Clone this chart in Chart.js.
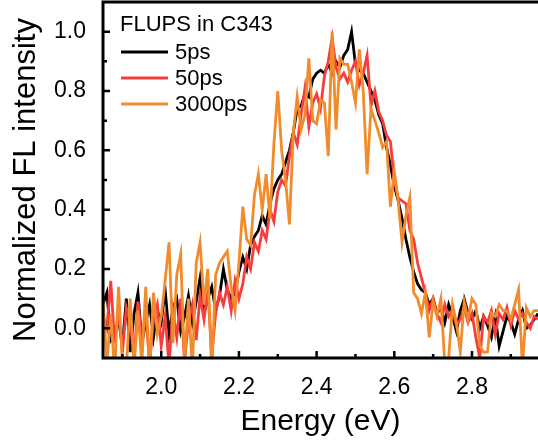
<!DOCTYPE html>
<html><head><meta charset="utf-8">
<script src="https://cdn.jsdelivr.net/npm/chart.js@4/dist/chart.umd.min.js"></script>
<style>html,body{margin:0;padding:0;background:#fff;overflow:hidden}canvas{display:block}</style>
</head><body>
<canvas id="c" width="538" height="447"></canvas>
<script>
const energy = [1.85,1.86,1.87,1.88,1.89,1.90,1.91,1.92,1.93,1.94,1.95,1.96,1.97,1.98,1.99,
2.00,2.01,2.02,2.03,2.04,2.05,2.06,2.07,2.08,2.09,2.10,2.11,2.12,2.13,2.14,2.15,2.16,2.17,2.18,2.19,
2.20,2.21,2.22,2.23,2.24,2.25,2.26,2.27,2.28,2.29,2.30,2.31,2.32,2.33,2.34,2.35,2.36,2.37,2.38,2.39,
2.40,2.41,2.42,2.43,2.44,2.45,2.46,2.47,2.48,2.49,2.50,2.51,2.52,2.53,2.54,2.55,2.56,2.57,2.58,2.59,
2.60,2.61,2.62,2.63,2.64,2.65,2.66,2.67,2.68,2.69,2.70,2.71,2.72,2.73,2.74,2.75,2.76,2.77,2.78,2.79,
2.80,2.81,2.82,2.83,2.84,2.85,2.86,2.87,2.88,2.89,2.90,2.91,2.92,2.93,2.94,2.95,2.96,2.97];

const fl5ps = [0.08,0.12,-0.04,-0.02,0.03,-0.06,0.10,-0.08,0.05,0.12,-0.05,0.02,0.08,-0.03,0.06,
0.02,0.13,-0.02,0.07,0.10,-0.01,0.04,0.11,0.02,0.09,0.17,0.05,0.10,0.14,0.06,0.11,0.20,0.13,0.10,0.12,
0.19,0.24,0.20,0.28,0.31,0.33,0.38,0.35,0.42,0.47,0.50,0.52,0.56,0.60,0.66,0.74,0.75,0.79,0.78,0.84,
0.86,0.87,0.86,0.89,0.86,0.90,0.88,0.92,0.94,1.00,0.89,0.87,0.86,0.83,0.80,0.77,0.72,0.69,0.61,0.55,
0.48,0.43,0.37,0.30,0.24,0.19,0.15,0.13,0.12,0.08,0.10,0.05,0.07,0.02,0.08,0.04,-0.01,0.06,0.10,0.05,
0.03,0.06,0.00,0.04,0.01,-0.03,0.04,-0.06,-0.01,0.04,0.02,-0.02,0.03,0.06,0.00,0.01,0.03,0.05];

const fl50ps = [0.04,0.00,0.16,-0.05,0.06,-0.08,0.07,0.02,-0.10,0.09,-0.04,0.05,-0.12,0.03,0.08,
-0.06,0.04,-0.12,0.06,-0.03,0.10,-0.11,0.02,0.08,-0.04,0.11,0.03,0.13,-0.09,0.05,0.12,0.08,0.14,0.06,0.16,
0.10,0.15,0.24,0.20,0.29,0.26,0.33,0.30,0.40,0.36,0.46,0.50,0.48,0.58,0.66,0.62,0.72,0.81,0.68,0.76,
0.79,0.74,0.85,0.90,0.98,0.88,0.84,0.86,0.83,0.87,0.90,0.82,0.86,0.92,0.75,0.80,0.73,0.70,0.65,0.63,
0.50,0.44,0.43,0.42,0.33,0.30,0.22,0.17,0.12,0.06,0.10,0.05,0.02,0.08,0.04,0.06,0.01,0.03,0.07,0.02,
0.05,-0.03,-0.10,0.04,0.02,0.06,-0.02,0.05,0.03,0.07,0.01,0.06,0.03,0.05,0.02,0.00,0.04,0.03];

const fl3000ps = [0.10,-0.12,0.05,-0.15,0.14,-0.12,-0.14,0.10,-0.13,0.06,-0.12,0.14,-0.15,0.12,-0.02,
0.04,0.16,0.29,-0.05,0.18,0.25,-0.12,0.10,-0.14,0.22,0.29,0.08,0.20,-0.15,0.18,0.22,0.24,0.26,0.14,0.06,
0.22,0.41,0.30,0.28,0.45,0.52,0.40,0.52,0.37,0.62,0.80,0.60,0.50,0.35,0.66,0.78,0.67,0.72,0.91,0.70,
0.69,0.77,0.76,0.58,1.00,0.67,0.91,0.89,0.89,0.83,0.76,0.94,0.80,0.52,0.74,0.70,0.66,0.61,0.63,0.41,
0.53,0.43,0.29,0.38,0.44,0.12,0.10,0.05,0.12,-0.03,0.09,0.04,0.10,-0.12,-0.10,0.08,0.02,-0.08,0.09,0.03,
0.10,0.08,-0.06,-0.08,-0.08,0.05,0.04,0.08,0.06,0.06,0.03,0.08,0.13,-0.13,0.07,0.04,0.06,0.06];

const seriesNames = ['5ps', '50ps', '3000ps'];
const seriesColors = ['#000000', '#F83C3C', '#F18B2C'];
const legendTitle = 'FLUPS in C343';
const xTickValues = [2.0, 2.2, 2.4, 2.6, 2.8];
const xMinorValues = [1.9, 2.1, 2.3, 2.5, 2.7, 2.9];
const yTickValues = [0.0, 0.2, 0.4, 0.6, 0.8, 1.0];
const yMinorValues = [0.1, 0.3, 0.5, 0.7, 0.9];
const xTitle = 'Energy (eV)';
const yTitle = 'Normalized FL intensity';

const FONT = "'Liberation Sans', Arial, Helvetica, sans-serif";
const seriesData = [fl5ps, fl50ps, fl3000ps];

const framePlugin = {
  id: 'frameTicksLegend',
  afterDatasetsDraw(chart) {
    const {ctx, chartArea: a, scales: {x, y}} = chart;
    ctx.save();
    ctx.strokeStyle = '#000';
    ctx.lineCap = 'butt';
    ctx.lineWidth = 3;
    ctx.beginPath();
    ctx.moveTo(a.left, a.bottom); ctx.lineTo(a.left, a.top); ctx.lineTo(a.right, a.top);
    ctx.moveTo(a.left - 1.5, a.bottom); ctx.lineTo(a.right, a.bottom);
    ctx.stroke();
    ctx.lineWidth = 2.5;
    ctx.beginPath();
    xTickValues.forEach(v => { const p = x.getPixelForValue(v); ctx.moveTo(p, a.bottom); ctx.lineTo(p, a.bottom - 7); });
    xMinorValues.forEach(v => { const p = x.getPixelForValue(v); ctx.moveTo(p, a.bottom); ctx.lineTo(p, a.bottom - 4); });
    yTickValues.forEach(v => { const p = y.getPixelForValue(v); ctx.moveTo(a.left, p); ctx.lineTo(a.left + 7, p); });
    yMinorValues.forEach(v => { const p = y.getPixelForValue(v); ctx.moveTo(a.left, p); ctx.lineTo(a.left + 4, p); });
    ctx.stroke();
    // legend
    ctx.font = '22px ' + FONT;
    ctx.fillStyle = '#000';
    ctx.textAlign = 'left';
    ctx.textBaseline = 'middle';
    ctx.fillText(legendTitle, 120, 25);
    seriesNames.forEach((n, i) => {
      const cy = 52 + i * 26;
      ctx.strokeStyle = seriesColors[i];
      ctx.lineWidth = 3;
      ctx.beginPath(); ctx.moveTo(121, cy); ctx.lineTo(168, cy); ctx.stroke();
      ctx.fillText(n, 175, cy + 1);
    });
    ctx.restore();
  }
};

new Chart(document.getElementById('c'), {
  type: 'line',
  data: {
    datasets: seriesNames.map((n, i) => ({
      label: n,
      data: energy.map((e, k) => ({x: e, y: seriesData[i][k]})),
      borderColor: seriesColors[i],
      borderWidth: 2.8,
      pointRadius: 0,
      tension: 0,
      fill: false,
      order: 3 - i
    }))
  },
  options: {
    responsive: false,
    animation: false,
    devicePixelRatio: 1,
    layout: {padding: {top: 2, right: 0, bottom: 0, left: 0}},
    plugins: {legend: {display: false}, tooltip: {enabled: false}},
    scales: {
      x: {
        type: 'linear', min: 1.85, max: 2.97,
        grid: {display: false}, border: {display: false},
        afterBuildTicks: s => { s.ticks = xTickValues.map(v => ({value: v})); },
        afterFit: s => { s.height = 89; s.paddingLeft = 0; s.paddingRight = 0; },
        ticks: {color: '#000', font: {family: FONT, size: 23}, padding: 8, maxRotation: 0, autoSkip: false,
          callback: v => Number(v).toFixed(1)},
        title: {display: true, text: xTitle, color: '#000', font: {family: FONT, size: 30}, padding: {top: 0, bottom: 7}}
      },
      y: {
        type: 'linear', min: -0.1, max: 1.1,
        grid: {display: false}, border: {display: false},
        afterBuildTicks: s => { s.ticks = yTickValues.map(v => ({value: v})); },
        afterFit: s => { s.width = 103; s.paddingTop = 0; s.paddingBottom = 0; },
        ticks: {color: '#000', font: {family: FONT, size: 23}, padding: 9, autoSkip: false,
          callback: v => Number(v).toFixed(1)},
        title: {display: true, text: yTitle, color: '#000', font: {family: FONT, size: 31}, padding: {top: 8, bottom: 0}}
      }
    }
  },
  plugins: [framePlugin]
});
</script>
</body></html>
